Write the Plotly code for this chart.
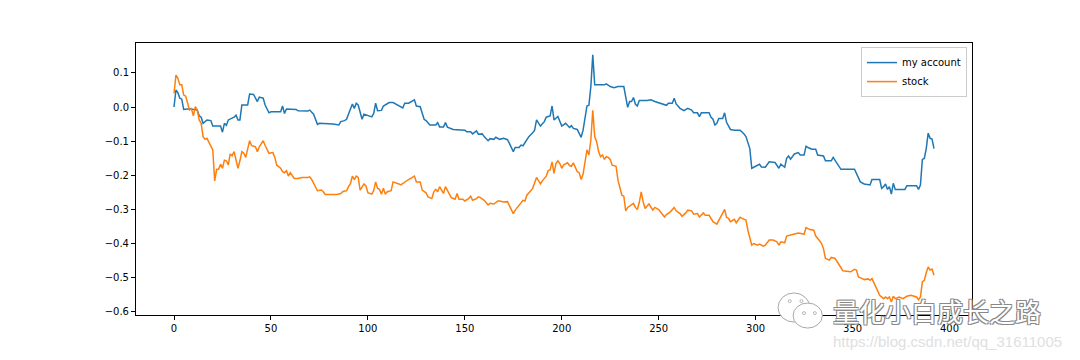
import plotly.graph_objects as go

# ---- data: (index, value) vertices ----
acct_x = [0, 1, 2, 3, 4, 5, 8, 11, 12, 13, 14, 15, 17, 19, 20, 24, 25, 26, 27, 28, 31, 32, 33, 34, 35, 38, 39, 41, 43, 44,
          46, 47, 49, 50, 55, 56, 57, 58, 63, 64, 69, 70, 72, 74, 75, 82, 85, 86, 88, 89, 90, 92, 93, 94, 95, 97, 98, 100, 102, 103,
          104, 105, 107, 108, 111, 113, 116, 118, 119, 121, 124, 125, 127, 129, 130, 132, 135, 136, 137, 139, 140, 141, 144, 150, 151, 153, 154, 156, 157, 159,
          160, 162, 163, 165, 166, 168, 170, 172, 173, 174, 175, 176, 178, 179, 180, 181, 183, 185, 186, 187, 189, 191, 192, 193, 194, 195, 196, 198, 200, 202,
          204, 205, 206, 208, 210, 211, 212, 213, 214, 215, 216, 217, 222, 223, 225, 227, 229, 232, 233, 234, 235, 236, 237, 238, 239, 240, 244, 246, 248, 252,
          254, 255, 257, 258, 259, 261, 263, 265, 267, 268, 270, 271, 272, 276, 277, 278, 279, 280, 281, 283, 284, 285, 287, 289, 292, 294, 295, 297, 298, 300,
          302, 303, 305, 307, 310, 312, 313, 315, 316, 317, 318, 320, 322, 323, 325, 326, 327, 329, 331, 332, 335, 336, 339, 340, 342, 344, 351, 352, 354, 356,
          359, 360, 364, 365, 366, 367, 368, 369, 370, 371, 372, 377, 378, 383, 384, 385, 386, 387, 388, 389, 390, 391, 392]
acct_y = [0.000, 0.050, 0.042, 0.026, 0.023, -0.007, -0.005, -0.007, -0.009, -0.026, -0.030, -0.048, -0.038, -0.040, -0.056, -0.056, -0.074, -0.048, -0.054, -0.038,
          -0.030, -0.024, -0.038, -0.038, 0.006, 0.006, 0.038, 0.037, 0.016, 0.029,
          0.026, 0.006, -0.017, -0.014, -0.014, 0.003, -0.019, -0.006, -0.007, -0.011, -0.012, -0.009, -0.021, -0.051, -0.048, -0.050, -0.053, -0.043, -0.040, -0.036,
          -0.019, 0.009, -0.004, 0.011, 0.006, -0.036, -0.021, -0.026, -0.029, -0.019,
          0.011, -0.011, -0.010, 0.003, 0.013, 0.013, 0.003, -0.003, 0.011, 0.011, 0.021, 0.003, 0.001, -0.036, -0.040, -0.053, -0.053, -0.046, -0.059, -0.059,
          -0.046, -0.059, -0.066, -0.068, -0.073, -0.073, -0.079, -0.070, -0.080, -0.079,
          -0.087, -0.099, -0.093, -0.095, -0.089, -0.095, -0.092, -0.096, -0.107, -0.119, -0.131, -0.119, -0.119, -0.112, -0.114, -0.105, -0.087, -0.076, -0.068, -0.038,
          -0.056, -0.043, -0.030, -0.028, -0.026, 0.003, -0.038, -0.028, -0.056, -0.048,
          -0.060, -0.055, -0.063, -0.066, -0.089, -0.068, -0.030, 0.003, 0.005, 0.060, 0.153, 0.065, 0.065, 0.068, 0.060, 0.057, 0.060, 0.060, 0.030, -0.001,
          0.016, 0.016, 0.028, 0.008, 0.003, 0.019, 0.019, 0.021, 0.016, 0.008,
          0.005, 0.011, 0.011, 0.026, 0.009, -0.004, -0.011, -0.004, -0.009, -0.017, -0.017, -0.028, -0.017, -0.017, -0.030, -0.036, -0.053, -0.048, -0.034, -0.034,
          -0.017, -0.045, -0.066, -0.068, -0.068, -0.079, -0.087, -0.122, -0.180, -0.174,
          -0.168, -0.176, -0.177, -0.161, -0.163, -0.180, -0.168, -0.177, -0.151, -0.144, -0.153, -0.138, -0.134, -0.141, -0.141, -0.115, -0.119, -0.124, -0.124, -0.141,
          -0.144, -0.158, -0.158, -0.148, -0.164, -0.183, -0.183, -0.195, -0.220, -0.226,
          -0.229, -0.213, -0.213, -0.239, -0.234, -0.226, -0.242, -0.234, -0.256, -0.224, -0.242, -0.242, -0.231, -0.231, -0.242, -0.229, -0.154, -0.151, -0.122, -0.077,
          -0.092, -0.094, -0.122]

stock_x = [0, 1, 2, 3, 4, 5, 6, 7, 8, 9, 10, 11, 12, 13, 14, 15, 16, 17, 18, 20, 21, 22, 23, 24, 25, 26, 27, 28, 29, 30,
           31, 33, 34, 35, 36, 37, 39, 40, 42, 43, 44, 46, 47, 49, 51, 52, 53, 55, 56, 57, 58, 59, 60, 61, 62, 64, 66, 69, 70, 71,
           73, 74, 76, 77, 78, 84, 86, 87, 88, 89, 90, 91, 92, 93, 94, 95, 96, 98, 99, 100, 102, 103, 104, 105, 106, 107, 108, 109, 110, 112,
           113, 115, 116, 117, 119, 121, 124, 125, 127, 128, 130, 131, 133, 134, 135, 136, 137, 139, 140, 141, 143, 145, 146, 147, 149, 150, 152, 153, 154, 156,
           157, 158, 160, 162, 163, 165, 167, 168, 170, 172, 173, 174, 175, 176, 178, 180, 181, 182, 184, 185, 187, 188, 189, 190, 191, 192, 193, 194, 195, 196,
           197, 198, 199, 200, 201, 203, 204, 205, 206, 207, 208, 209, 210, 211, 212, 213, 214, 215, 216, 217, 218, 219, 220, 221, 222, 223, 224, 225, 226, 228,
           229, 231, 232, 233, 234, 235, 237, 238, 239, 240, 241, 242, 243, 244, 245, 247, 248, 250, 253, 254, 256, 258, 259, 261, 262, 264, 265, 267, 268, 270,
           271, 273, 274, 276, 277, 278, 280, 281, 282, 283, 284, 285, 286, 287, 289, 290, 292, 293, 295, 296, 298, 299, 301, 302, 304, 305, 307, 309, 311, 312,
           313, 315, 316, 318, 320, 322, 324, 325, 326, 328, 330, 331, 333, 334, 335, 336, 338, 339, 341, 342, 344, 345, 349, 351, 352, 353, 355, 356, 358, 359,
           360, 362, 363, 364, 366, 367, 368, 369, 370, 371, 372, 374, 376, 378, 380, 382, 383, 384, 385, 386, 387, 388, 389, 390, 391, 392]
stock_y = [0.040, 0.094, 0.084, 0.065, 0.065, 0.035, 0.032, 0.011, -0.009, -0.005, -0.026, 0.001, -0.009, -0.038, -0.048, -0.087, -0.095, -0.092, -0.105, -0.126,
           -0.217, -0.183, -0.183, -0.168, -0.180, -0.156, -0.158, -0.170, -0.138, -0.143,
           -0.131, -0.180, -0.158, -0.131, -0.136, -0.148, -0.099, -0.113, -0.117, -0.131, -0.117, -0.099, -0.113, -0.136, -0.134, -0.148, -0.171, -0.180, -0.190, -0.193,
           -0.187, -0.203, -0.193, -0.203, -0.210, -0.210, -0.207, -0.207, -0.205, -0.213,
           -0.234, -0.246, -0.244, -0.249, -0.257, -0.257, -0.254, -0.249, -0.247, -0.246, -0.234, -0.225, -0.203, -0.213, -0.203, -0.207, -0.244, -0.226, -0.232, -0.252,
           -0.256, -0.246, -0.220, -0.239, -0.242, -0.256, -0.239, -0.256, -0.249, -0.246,
           -0.220, -0.223, -0.226, -0.229, -0.220, -0.213, -0.203, -0.220, -0.220, -0.244, -0.252, -0.264, -0.269, -0.249, -0.242, -0.249, -0.234, -0.254, -0.234, -0.244,
           -0.266, -0.271, -0.254, -0.271, -0.271, -0.276, -0.269, -0.262, -0.274, -0.269,
           -0.264, -0.266, -0.274, -0.288, -0.283, -0.285, -0.276, -0.276, -0.279, -0.278, -0.291, -0.303, -0.313, -0.303, -0.288, -0.274, -0.276, -0.259, -0.246, -0.239,
           -0.207, -0.217, -0.226, -0.217, -0.210, -0.203, -0.187, -0.185, -0.161, -0.195,
           -0.166, -0.158, -0.166, -0.180, -0.170, -0.164, -0.172, -0.174, -0.164, -0.180, -0.190, -0.193, -0.213, -0.197, -0.156, -0.126, -0.141, -0.097, -0.010, -0.087,
           -0.102, -0.131, -0.146, -0.141, -0.154, -0.146, -0.148, -0.154, -0.171, -0.174,
           -0.215, -0.259, -0.262, -0.305, -0.295, -0.291, -0.283, -0.295, -0.301, -0.280, -0.249, -0.279, -0.298, -0.291, -0.285, -0.303, -0.295, -0.301, -0.323, -0.316,
           -0.308, -0.295, -0.305, -0.313, -0.321, -0.311, -0.303, -0.305, -0.315, -0.313,
           -0.323, -0.311, -0.318, -0.318, -0.330, -0.337, -0.344, -0.332, -0.321, -0.313, -0.301, -0.324, -0.327, -0.337, -0.330, -0.340, -0.324, -0.327, -0.332, -0.362,
           -0.406, -0.401, -0.406, -0.403, -0.409, -0.406, -0.391, -0.391, -0.396, -0.406,
           -0.396, -0.399, -0.379, -0.376, -0.374, -0.370, -0.372, -0.374, -0.354, -0.360, -0.362, -0.379, -0.393, -0.401, -0.416, -0.445, -0.450, -0.442, -0.445, -0.455,
           -0.472, -0.481, -0.484, -0.477, -0.479, -0.499, -0.504, -0.507, -0.505, -0.509,
           -0.504, -0.530, -0.543, -0.553, -0.563, -0.558, -0.563, -0.558, -0.573, -0.556, -0.563, -0.558, -0.563, -0.556, -0.553, -0.556, -0.558, -0.566, -0.558, -0.514,
           -0.509, -0.487, -0.470, -0.479, -0.476, -0.494]

series_names = ["my account", "stock"]
series_colors = ["#1f77b4", "#ff7f0e"]
x_ticks = [0, 50, 100, 150, 200, 250, 300, 350, 400]
y_ticks = [0.1, 0.0, -0.1, -0.2, -0.3, -0.4, -0.5, -0.6]

fig = go.Figure()
for xs, ys, name, color in [(acct_x, acct_y, series_names[0], series_colors[0]),
                            (stock_x, stock_y, series_names[1], series_colors[1])]:
    fig.add_trace(go.Scatter(x=xs, y=ys, mode="lines", name=name,
                             line=dict(color=color, width=1.5)))

axis_common = dict(showline=True, mirror=True, linecolor="black", linewidth=1,
                   ticks="outside", ticklen=4, tickwidth=1, tickcolor="black",
                   showgrid=False, zeroline=False,
                   tickfont=dict(family="DejaVu Sans", size=10, color="black"))

# page body has an 8px margin; figure is sized so the plot area lands at page x 136-972, y 43-315
fig.update_layout(
    width=1072, height=352,
    margin=dict(l=128, r=108, t=35, b=45),
    paper_bgcolor="white", plot_bgcolor="white",
    font=dict(family="DejaVu Sans", size=10, color="black"),
    xaxis=dict(range=[-19.6, 411.6], tickvals=x_ticks, **axis_common),
    yaxis=dict(range=[-0.611, 0.188], tickvals=y_ticks, tickformat=".1f", **axis_common),
    legend=dict(x=0.994, y=0.985, xanchor="right", yanchor="top",
                bgcolor="rgba(255,255,255,0.8)", bordercolor="#cccccc", borderwidth=1,
                font=dict(family="DejaVu Sans", size=10, color="black"),
                itemwidth=30, tracegroupgap=0),
    showlegend=True,
)

# watermark (WeChat-style icon + text)
icon_line = dict(color="#a8a8a8", width=1)
fig.add_shape(type="circle", xref="paper", yref="paper", x0=0.768, x1=0.806, y0=-0.026, y1=0.081,
              line=icon_line, fillcolor="white", layer="above")
fig.add_shape(type="circle", xref="paper", yref="paper", x0=0.786, x1=0.821, y0=-0.048, y1=0.044,
              line=icon_line, fillcolor="white", layer="above")
for ex, ey in [(0.782, 0.051), (0.796, 0.051), (0.799, 0.007), (0.812, 0.007)]:
    fig.add_shape(type="circle", xref="paper", yref="paper", x0=ex - 0.0018, x1=ex + 0.0018,
                  y0=ey - 0.0055, y1=ey + 0.0055, line=dict(color="#b8b8b8", width=1),
                  fillcolor="white", layer="above")
fig.add_annotation(text="量化小白成长之路", xref="paper", yref="paper", x=0.958, y=0.018,
                   xanchor="center", yanchor="middle", showarrow=False,
                   font=dict(family="Noto Sans CJK SC", size=26, color="white",
                             shadow="-1px -1px 0 #888, 1px -1px 0 #888, -1px 1px 0 #888, 1px 1px 0 #888"))
fig.add_annotation(text="https://blog.csdn.net/qq_31611005", xref="paper", yref="paper", x=0.971, y=-0.097,
                   xanchor="center", yanchor="middle", showarrow=False,
                   font=dict(family="Liberation Sans", size=15, color="#e0e0e0"))

fig.write_html("out.html")
